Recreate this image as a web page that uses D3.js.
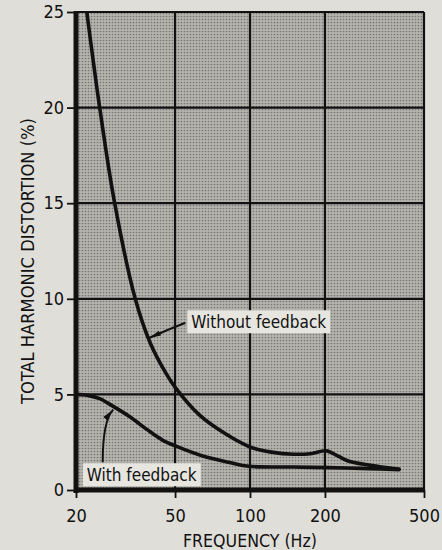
<!DOCTYPE html>
<html>
<head>
<meta charset="utf-8">
<script src="https://cdn.jsdelivr.net/npm/d3@7"></script>
<style>
  html, body { margin: 0; padding: 0; background: #e0ded8; }
  svg { display: block; }
</style>
</head>
<body>
<div id="root"></div>
<script>
// data
const freqTicks = [20, 50, 100, 200, 500];
const thdTicks = [0, 5, 10, 15, 20, 25];

const withoutFreq = [21.3, 22.1, 24.9, 28.6, 34.6, 39.7, 45.5, 50.5, 62.9, 79.4, 100, 122, 150, 175, 202, 225, 250, 332, 397];
const withoutThd  = [26.6, 25, 20, 15, 10, 7.7, 6.2, 5.3, 3.9, 2.95, 2.25, 1.98, 1.87, 1.9, 2.05, 1.78, 1.5, 1.22, 1.1];

const withFreq = [20, 22.3, 24.9, 28.0, 32.9, 38.5, 44.5, 50.7, 64.6, 82.9, 99, 150, 208, 300, 397];
const withThd  = [5.0, 4.95, 4.78, 4.4, 3.83, 3.17, 2.61, 2.28, 1.78, 1.44, 1.24, 1.2, 1.17, 1.12, 1.06];

const seriesNames = ["Without feedback", "With feedback"];

const width = 442;
const height = 550;
const margin = {top: 12, right: 18, bottom: 60, left: 76};
const font = "'DejaVu Sans Condensed', 'Liberation Sans Narrow', sans-serif";

const svg = d3.select("#root")
  .append("svg")
  .attr("width", width)
  .attr("height", height);

const x = d3.scaleLog()
  .domain([20, 500])
  .range([margin.left, width - margin.right]);

const y = d3.scaleLinear()
  .domain([0, 25])
  .range([height - margin.bottom, margin.top]);

// halftone fill
const defs = svg.append("defs");
const pat = defs.append("pattern")
  .attr("id", "dots")
  .attr("width", 3).attr("height", 3)
  .attr("patternUnits", "userSpaceOnUse");
pat.append("rect").attr("width", 3).attr("height", 3).attr("fill", "#b5b4af");
pat.append("circle").attr("cx", 1.5).attr("cy", 1.5).attr("r", 0.85).attr("fill", "#767570");

defs.append("clipPath").attr("id", "plot")
  .append("rect")
  .attr("x", x(20)).attr("y", y(25))
  .attr("width", x(500) - x(20))
  .attr("height", y(0) - y(25));

svg.append("rect")
  .attr("x", x(20)).attr("y", y(25))
  .attr("width", x(500) - x(20))
  .attr("height", y(0) - y(25))
  .attr("fill", "url(#dots)");

// grid
const grid = svg.append("g").attr("stroke", "#111").attr("stroke-width", 2.2);
grid.selectAll("line.v")
  .data(freqTicks.slice(1))
  .enter().append("line")
    .attr("x1", d => x(d)).attr("x2", d => x(d))
    .attr("y1", y(25)).attr("y2", y(0));
grid.selectAll("line.h")
  .data(thdTicks.slice(1))
  .enter().append("line")
    .attr("y1", d => y(d)).attr("y2", d => y(d))
    .attr("x1", x(20)).attr("x2", x(500));

// axes
const yAxis = svg.append("g")
  .attr("transform", `translate(${x(20)},0)`)
  .call(d3.axisLeft(y).tickValues(thdTicks).tickSize(9).tickPadding(3));

const xAxis = svg.append("g")
  .attr("transform", `translate(0,${y(0)})`)
  .call(d3.axisBottom(x).tickValues(freqTicks).tickFormat(d3.format("d")).tickSize(8).tickPadding(11));

[xAxis, yAxis].forEach(g => {
  g.select(".domain").remove();
  g.selectAll(".tick line").attr("stroke", "#111").attr("stroke-width", 1.8);
  g.selectAll(".tick text")
    .attr("fill", "#111")
    .style("font-family", font)
    .style("font-size", "18px");
});

// heavy left and bottom axis lines
svg.append("line")
  .attr("x1", x(20)).attr("x2", x(20))
  .attr("y1", y(25) - 1).attr("y2", y(0) + 3)
  .attr("stroke", "#111").attr("stroke-width", 5);
svg.append("line")
  .attr("x1", x(20) - 2).attr("x2", x(500))
  .attr("y1", y(0)).attr("y2", y(0))
  .attr("stroke", "#111").attr("stroke-width", 5);

// curves
const line = d3.line()
  .x(d => x(d[0]))
  .y(d => y(d[1]))
  .curve(d3.curveCatmullRom.alpha(0.5));

const curves = [
  d3.zip(withoutFreq, withoutThd),
  d3.zip(withFreq, withThd)
];

svg.append("g")
  .attr("clip-path", "url(#plot)")
  .selectAll("path")
  .data(curves)
  .enter().append("path")
    .attr("d", line)
    .attr("fill", "none")
    .attr("stroke", "#111")
    .attr("stroke-width", 3.6)
    .attr("stroke-linecap", "round");

// annotations
defs.append("marker")
  .attr("id", "arrow")
  .attr("viewBox", "0 0 12 6")
  .attr("refX", 12).attr("refY", 3)
  .attr("markerWidth", 12).attr("markerHeight", 6)
  .attr("markerUnits", "userSpaceOnUse")
  .attr("orient", "auto")
  .append("path")
  .attr("d", "M0,0.5 L12,3 L0,5.5 Z")
  .attr("fill", "#111");

const notes = [
  {text: seriesNames[0], f: 56, v: 8.8, from: [55, 8.75], ctrl: [47, 8.4], to: [39.3, 7.95]},
  {text: seriesNames[1], f: 21.3, v: 0.8, from: [25.6, 1.45], ctrl: [25.6, 3.6], to: [28.2, 4.2]}
];

notes.forEach(n => {
  const g = svg.append("g");
  const t = g.append("text")
    .attr("x", x(n.f) + 4)
    .attr("y", y(n.v))
    .attr("dy", "0.36em")
    .attr("fill", "#111")
    .style("font-family", font)
    .style("font-size", "17px")
    .text(n.text);
  const bb = t.node().getBBox();
  g.insert("rect", "text")
    .attr("x", x(n.f))
    .attr("y", y(n.v) - 11.5)
    .attr("width", bb.width + 8)
    .attr("height", 23)
    .attr("fill", "#e6e5e0");
  svg.append("path")
    .attr("d", `M${x(n.from[0])},${y(n.from[1])} Q${x(n.ctrl[0])},${y(n.ctrl[1])} ${x(n.to[0])},${y(n.to[1])}`)
    .attr("fill", "none")
    .attr("stroke", "#111")
    .attr("stroke-width", 2)
    .attr("marker-end", "url(#arrow)");
});

// axis titles
svg.append("text")
  .attr("transform", `translate(34,${(y(25) + y(0)) / 2 + 10}) rotate(-90)`)
  .attr("text-anchor", "middle")
  .attr("textLength", 286)
  .attr("lengthAdjust", "spacingAndGlyphs")
  .attr("fill", "#111")
  .style("font-family", font)
  .style("font-size", "17px")
  .text("TOTAL HARMONIC DISTORTION (%)");

svg.append("text")
  .attr("x", 250)
  .attr("y", 547)
  .attr("text-anchor", "middle")
  .attr("textLength", 134)
  .attr("lengthAdjust", "spacingAndGlyphs")
  .attr("fill", "#111")
  .style("font-family", font)
  .style("font-size", "17px")
  .text("FREQUENCY (Hz)");
</script>
</body>
</html>
